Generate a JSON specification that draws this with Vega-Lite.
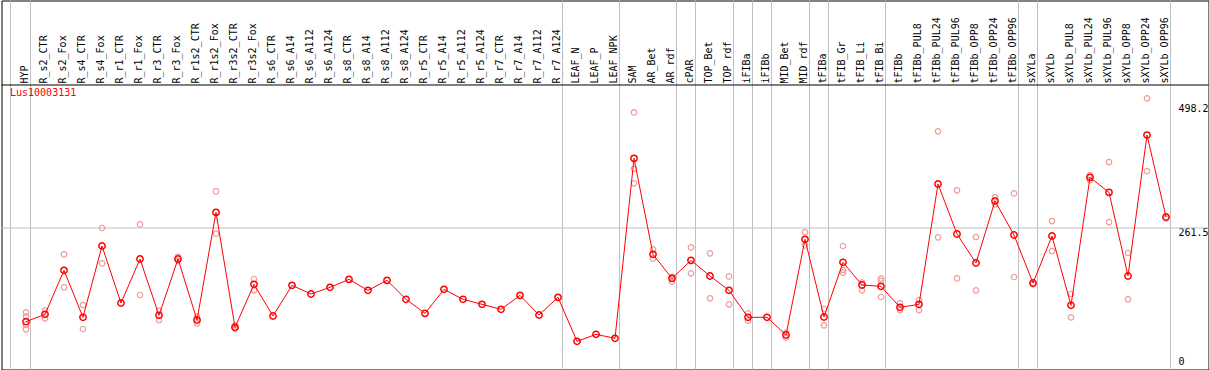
{
  "$schema": "https://vega.github.io/schema/vega-lite/v6.json",
  "width": 1207,
  "height": 369,
  "autosize": "none",
  "padding": {"left": 1.5, "top": 0.5, "right": 0, "bottom": 0},
  "background": "white",
  "config": {
    "view": {"stroke": "black", "strokeWidth": 1},
    "font": "DejaVu Sans Mono"
  },
  "title": {
    "text": "Lus10003131",
    "anchor": "start",
    "frame": "group",
    "orient": "top",
    "offset": -98,
    "baseline": "top",
    "dx": 8.5,
    "color": "#ff0000",
    "font": "DejaVu Sans Mono",
    "fontSize": 10,
    "fontWeight": "normal"
  },
  "datasets": {
    "means": [
      {"sample": "HYP", "value": 83.9},
      {"sample": "R_s2_CTR", "value": 97.9},
      {"sample": "R_s2_Fox", "value": 181.2},
      {"sample": "R_s4_CTR", "value": 92.2},
      {"sample": "R_s4_Fox", "value": 227.3},
      {"sample": "R_r1_CTR", "value": 119.3},
      {"sample": "R_r1_Fox", "value": 202.7},
      {"sample": "R_r3_CTR", "value": 96.0},
      {"sample": "R_r3_Fox", "value": 202.7},
      {"sample": "R_r1s2_CTR", "value": 87.1},
      {"sample": "R_r1s2_Fox", "value": 291.0},
      {"sample": "R_r3s2_CTR", "value": 73.2},
      {"sample": "R_r3s2_Fox", "value": 154.7},
      {"sample": "R_s6_CTR", "value": 94.7},
      {"sample": "R_s6_A14", "value": 152.8},
      {"sample": "R_s6_A112", "value": 136.4},
      {"sample": "R_s6_A124", "value": 149.0},
      {"sample": "R_s8_CTR", "value": 164.1},
      {"sample": "R_s8_A14", "value": 143.3},
      {"sample": "R_s8_A112", "value": 162.2},
      {"sample": "R_s8_A124", "value": 126.3},
      {"sample": "R_r5_CTR", "value": 99.7},
      {"sample": "R_r5_A14", "value": 145.2},
      {"sample": "R_r5_A112", "value": 126.3},
      {"sample": "R_r5_A124", "value": 116.8},
      {"sample": "R_r7_CTR", "value": 107.3},
      {"sample": "R_r7_A14", "value": 133.8},
      {"sample": "R_r7_A112", "value": 96.6},
      {"sample": "R_r7_A124", "value": 130.0},
      {"sample": "LEAF_N", "value": 46.7},
      {"sample": "LEAF_P", "value": 60.0},
      {"sample": "LEAF_NPK", "value": 52.4},
      {"sample": "SAM", "value": 393.3},
      {"sample": "AR_Bet", "value": 211.5},
      {"sample": "AR_rdf", "value": 166.0},
      {"sample": "cPAR", "value": 200.1},
      {"sample": "TOP_Bet", "value": 170.5},
      {"sample": "TOP_rdf", "value": 143.3},
      {"sample": "iFIBa", "value": 92.2},
      {"sample": "iFIBb", "value": 92.2},
      {"sample": "MID_Bet", "value": 58.7},
      {"sample": "MID_rdf", "value": 239.9},
      {"sample": "tFIBa", "value": 92.8},
      {"sample": "tFIB_Gr", "value": 196.4},
      {"sample": "tFIB_Li", "value": 153.4},
      {"sample": "tFIB_Bi", "value": 150.9},
      {"sample": "tFIBb", "value": 111.1},
      {"sample": "tFIBb_PUL8", "value": 116.8},
      {"sample": "tFIBb_PUL24", "value": 344.7},
      {"sample": "tFIBb_PUL96", "value": 250.0},
      {"sample": "tFIBb_OPP8", "value": 195.1},
      {"sample": "tFIBb_OPP24", "value": 312.5},
      {"sample": "tFIBb_OPP96", "value": 248.1},
      {"sample": "sXYLa", "value": 157.2},
      {"sample": "sXYLb", "value": 246.2},
      {"sample": "sXYLb_PUL8", "value": 115.0},
      {"sample": "sXYLb_PUL24", "value": 357.3},
      {"sample": "sXYLb_PUL96", "value": 328.9},
      {"sample": "sXYLb_OPP8", "value": 170.5},
      {"sample": "sXYLb_OPP24", "value": 437.5},
      {"sample": "sXYLb_OPP96", "value": 282.2}
    ],
    "reps": [
      {"sample": "HYP", "value": 101.7},
      {"sample": "HYP", "value": 93.4},
      {"sample": "HYP", "value": 77.7},
      {"sample": "HYP", "value": 69.5},
      {"sample": "R_s2_CTR", "value": 104.8},
      {"sample": "R_s2_CTR", "value": 90.3},
      {"sample": "R_s2_Fox", "value": 211.5},
      {"sample": "R_s2_Fox", "value": 149.0},
      {"sample": "R_s4_CTR", "value": 115.5},
      {"sample": "R_s4_CTR", "value": 70.1},
      {"sample": "R_s4_Fox", "value": 261.4},
      {"sample": "R_s4_Fox", "value": 194.4},
      {"sample": "R_r1_Fox", "value": 268.3},
      {"sample": "R_r1_Fox", "value": 134.5},
      {"sample": "R_r3_CTR", "value": 104.8},
      {"sample": "R_r3_CTR", "value": 87.1},
      {"sample": "R_r3_Fox", "value": 207.0},
      {"sample": "R_r3_Fox", "value": 199.5},
      {"sample": "R_r1s2_CTR", "value": 93.4},
      {"sample": "R_r1s2_CTR", "value": 80.8},
      {"sample": "R_r1s2_Fox", "value": 330.8},
      {"sample": "R_r1s2_Fox", "value": 250.6},
      {"sample": "R_r3s2_CTR", "value": 77.0},
      {"sample": "R_r3s2_CTR", "value": 70.7},
      {"sample": "R_r3s2_Fox", "value": 164.8},
      {"sample": "R_r3s2_Fox", "value": 143.3},
      {"sample": "SAM", "value": 480.4},
      {"sample": "SAM", "value": 373.7},
      {"sample": "SAM", "value": 346.0},
      {"sample": "AR_Bet", "value": 221.0},
      {"sample": "AR_Bet", "value": 203.3},
      {"sample": "AR_rdf", "value": 169.0},
      {"sample": "AR_rdf", "value": 159.7},
      {"sample": "cPAR", "value": 224.7},
      {"sample": "cPAR", "value": 175.5},
      {"sample": "TOP_Bet", "value": 213.4},
      {"sample": "TOP_Bet", "value": 128.2},
      {"sample": "TOP_rdf", "value": 169.8},
      {"sample": "TOP_rdf", "value": 116.8},
      {"sample": "iFIBa", "value": 99.7},
      {"sample": "iFIBa", "value": 85.8},
      {"sample": "MID_Bet", "value": 63.0},
      {"sample": "MID_Bet", "value": 53.6},
      {"sample": "MID_rdf", "value": 253.8},
      {"sample": "MID_rdf", "value": 228.5},
      {"sample": "tFIBa", "value": 108.0},
      {"sample": "tFIBa", "value": 77.0},
      {"sample": "tFIB_Gr", "value": 227.3},
      {"sample": "tFIB_Gr", "value": 181.8},
      {"sample": "tFIB_Gr", "value": 176.8},
      {"sample": "tFIB_Li", "value": 157.8},
      {"sample": "tFIB_Li", "value": 143.3},
      {"sample": "tFIB_Bi", "value": 165.4},
      {"sample": "tFIB_Bi", "value": 161.0},
      {"sample": "tFIB_Bi", "value": 130.7},
      {"sample": "tFIBb", "value": 118.7},
      {"sample": "tFIBb", "value": 106.0},
      {"sample": "tFIBb_PUL8", "value": 125.0},
      {"sample": "tFIBb_PUL8", "value": 106.0},
      {"sample": "tFIBb_PUL24", "value": 444.5},
      {"sample": "tFIBb_PUL24", "value": 243.7},
      {"sample": "tFIBb_PUL96", "value": 332.8},
      {"sample": "tFIBb_PUL96", "value": 166.0},
      {"sample": "tFIBb_OPP8", "value": 244.3},
      {"sample": "tFIBb_OPP8", "value": 143.3},
      {"sample": "tFIBb_OPP24", "value": 319.4},
      {"sample": "tFIBb_OPP24", "value": 306.2},
      {"sample": "tFIBb_OPP96", "value": 327.0},
      {"sample": "tFIBb_OPP96", "value": 168.6},
      {"sample": "sXYLa", "value": 154.7},
      {"sample": "sXYLb", "value": 274.6},
      {"sample": "sXYLb", "value": 217.8},
      {"sample": "sXYLb_PUL8", "value": 136.4},
      {"sample": "sXYLb_PUL8", "value": 92.2},
      {"sample": "sXYLb_PUL24", "value": 361.7},
      {"sample": "sXYLb_PUL24", "value": 352.3},
      {"sample": "sXYLb_PUL96", "value": 386.4},
      {"sample": "sXYLb_PUL96", "value": 272.7},
      {"sample": "sXYLb_OPP8", "value": 214.0},
      {"sample": "sXYLb_OPP8", "value": 126.3},
      {"sample": "sXYLb_OPP24", "value": 507.0},
      {"sample": "sXYLb_OPP24", "value": 369.3},
      {"sample": "sXYLb_OPP96", "value": 279.7}
    ],
    "groupEnds": [
      {"sample": "HYP"},
      {"sample": "R_r7_A124"},
      {"sample": "LEAF_NPK"},
      {"sample": "AR_rdf"},
      {"sample": "cPAR"},
      {"sample": "TOP_rdf"},
      {"sample": "iFIBa"},
      {"sample": "iFIBb"},
      {"sample": "MID_rdf"},
      {"sample": "tFIBa"},
      {"sample": "tFIB_Bi"},
      {"sample": "tFIBb_OPP96"},
      {"sample": "sXYLa"},
      {"sample": "sXYLb_OPP96"}
    ],
    "groupStarts": [
      {"sample": "HYP"}
    ],
    "refLines": [
      {"value": 261.5, "kind": "grid"},
      {"value": 532.3, "kind": "divider"}
    ]
  },
  "encoding": {
    "x": {
      "field": "sample",
      "type": "nominal",
      "sort": null,
      "scale": {
        "type": "point",
        "range": [24.5, 1164.5],
        "padding": 0,
        "domain": ["HYP", "R_s2_CTR", "R_s2_Fox", "R_s4_CTR", "R_s4_Fox", "R_r1_CTR", "R_r1_Fox", "R_r3_CTR", "R_r3_Fox", "R_r1s2_CTR", "R_r1s2_Fox", "R_r3s2_CTR", "R_r3s2_Fox", "R_s6_CTR", "R_s6_A14", "R_s6_A112", "R_s6_A124", "R_s8_CTR", "R_s8_A14", "R_s8_A112", "R_s8_A124", "R_r5_CTR", "R_r5_A14", "R_r5_A112", "R_r5_A124", "R_r7_CTR", "R_r7_A14", "R_r7_A112", "R_r7_A124", "LEAF_N", "LEAF_P", "LEAF_NPK", "SAM", "AR_Bet", "AR_rdf", "cPAR", "TOP_Bet", "TOP_rdf", "iFIBa", "iFIBb", "MID_Bet", "MID_rdf", "tFIBa", "tFIB_Gr", "tFIB_Li", "tFIB_Bi", "tFIBb", "tFIBb_PUL8", "tFIBb_PUL24", "tFIBb_PUL96", "tFIBb_OPP8", "tFIBb_OPP24", "tFIBb_OPP96", "sXYLa", "sXYLb", "sXYLb_PUL8", "sXYLb_PUL24", "sXYLb_PUL96", "sXYLb_OPP8", "sXYLb_OPP24", "sXYLb_OPP96"]
      },
      "axis": {
        "orient": "top",
        "offset": -84.5,
        "title": null,
        "domain": false,
        "ticks": false,
        "grid": false,
        "labelAngle": 270,
        "labelAlign": "left",
        "labelBaseline": "middle",
        "labelPadding": 2,
        "labelOffset": -2,
        "labelFont": "DejaVu Sans Mono",
        "labelFontSize": 10,
        "labelColor": "black",
        "labelOverlap": false,
        "labelBound": false,
        "labelFlush": false
      }
    }
  },
  "layer": [
    {
      "data": {"name": "groupEnds"},
      "mark": {"type": "rule", "color": "#c0c0c0", "strokeWidth": 1, "xOffset": 4.5},
      "encoding": {}
    },
    {
      "data": {"name": "groupStarts"},
      "mark": {"type": "rule", "color": "#c0c0c0", "strokeWidth": 1, "xOffset": -15.5},
      "encoding": {}
    },
    {
      "data": {"name": "refLines"},
      "mark": {"type": "rule", "strokeWidth": 1},
      "encoding": {
        "x": null,
        "y": {"field": "value", "type": "quantitative"},
        "color": {
          "field": "kind",
          "type": "nominal",
          "scale": {"domain": ["grid", "divider"], "range": ["#c0c0c0", "#000000"]},
          "legend": null
        }
      }
    },
    {
      "data": {"name": "reps"},
      "mark": {"type": "point", "shape": "circle", "filled": false, "color": "#f09a9a", "strokeWidth": 1.2, "size": 30, "opacity": 1},
      "encoding": {
        "y": {"field": "value", "type": "quantitative"}
      }
    },
    {
      "data": {"name": "means"},
      "mark": {"type": "line", "color": "#ff0000", "strokeWidth": 1},
      "encoding": {
        "y": {"field": "value", "type": "quantitative"}
      }
    },
    {
      "data": {"name": "means"},
      "mark": {"type": "point", "shape": "circle", "filled": false, "color": "#ff0000", "strokeWidth": 1.5, "size": 40, "opacity": 1},
      "encoding": {
        "y": {
          "field": "value",
          "type": "quantitative",
          "scale": {"domain": [0, 498.2], "range": [365.5, 102.5], "zero": false, "nice": false},
          "axis": {
            "orient": "right",
            "offset": -30.5,
            "values": [0, 261.5, 498.2],
            "labelExpr": "'' + datum.value",
            "title": null,
            "domain": false,
            "ticks": false,
            "grid": false,
            "labelPadding": 0,
            "labelAlign": "left",
            "labelBaseline": {"condition": {"test": "datum.value == 0", "value": "bottom"}, "value": "top"},
            "labelFont": "DejaVu Sans Mono",
            "labelFontSize": 10,
            "labelColor": "black",
            "labelFlush": false,
            "labelBound": false,
            "labelOverlap": false
          }
        }
      }
    }
  ]
}
